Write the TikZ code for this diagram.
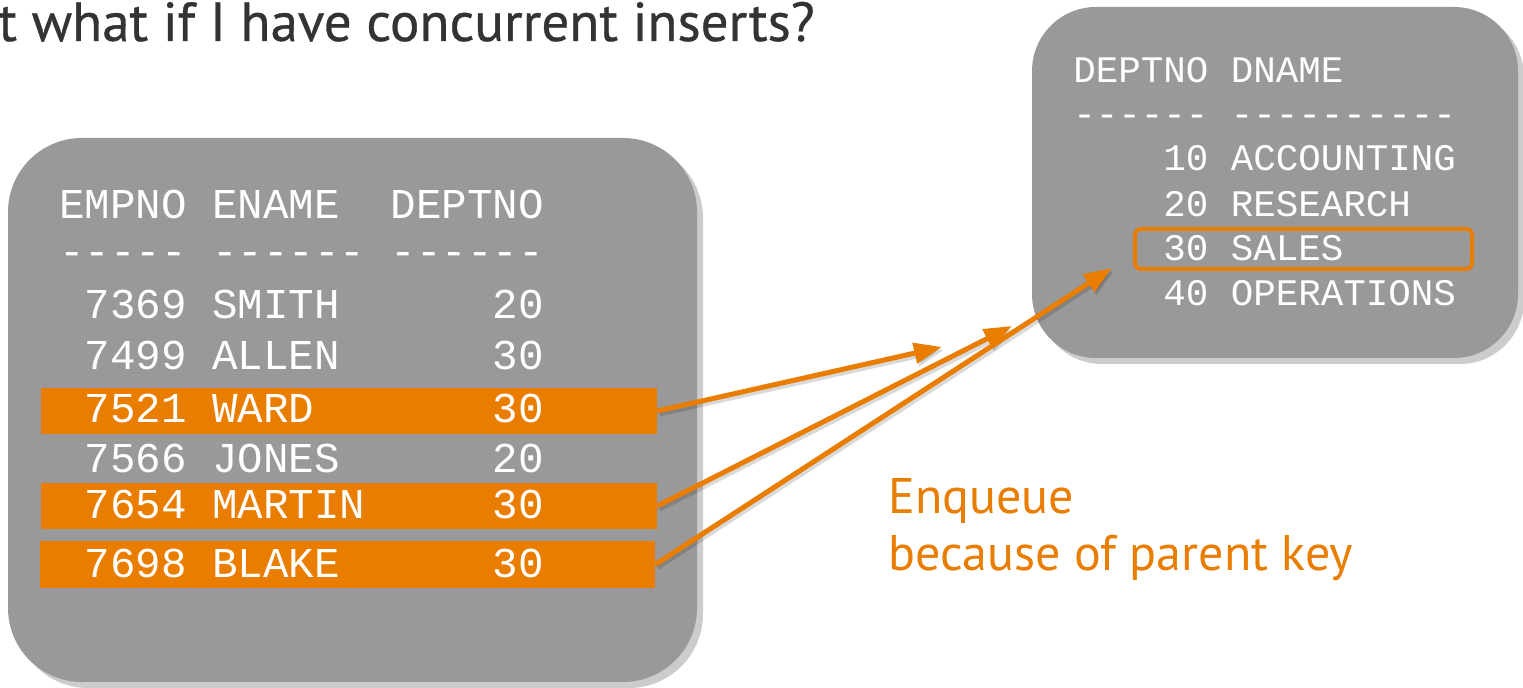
\documentclass[tikz,border=0pt]{standalone}
\usepackage{fontspec}
\setmainfont{PT Sans}
\newfontfamily\titlefont[FakeBold=0.6]{PT Sans}
\newfontfamily\monofont{Liberation Mono}
\usetikzlibrary{arrows.meta,shadows}
\definecolor{boxgray}{HTML}{999999}
\definecolor{orng}{HTML}{E87D00}
\definecolor{titlegray}{HTML}{333333}
\begin{document}
\begin{tikzpicture}[x=0.5pt,y=-0.5pt,
  box/.style={fill=boxgray, draw=none, inner sep=0,
    drop shadow={shadow xshift=3pt,shadow yshift=-3pt,fill=black,opacity=0.2}},
  bar/.style={fill=orng, draw=none, inner sep=0, minimum width=308pt, minimum height=23pt},
  lrow/.style={anchor=base west, inner sep=0, text=white, font=\monofont\fontsize{21.25pt}{21.25pt}\selectfont},
  rrow/.style={anchor=base west, inner sep=0, text=white, font=\monofont\fontsize{18.75pt}{18.75pt}\selectfont},
  link/.style={draw=orng, line width=2.5pt, -{Triangle[length=14pt,width=10pt]},
    preaction={draw=black, opacity=0.15, line width=2.5pt, transform canvas={shift={(1pt,-1.5pt)}}}},
  lbl/.style={anchor=base west, inner sep=0, text=orng, font=\fontsize{25pt}{28pt}\selectfont},
]
\useasboundingbox (0,0) rectangle (1523,688);
% title
\node[anchor=base west, inner sep=0, text=titlegray, font=\titlefont\fontsize{27.5pt}{32pt}\selectfont] (title) at (-2,41) {t what if I have concurrent inserts?};
% left box
\node[box, rounded corners=37pt, minimum width=344.5pt, minimum height=272pt] (emp) at (352.5,410) {};
\node[bar] (ward) at (349,411) {};
\node[bar] (martin) at (349,506) {};
\node[bar, minimum width=307.5pt, minimum height=23.5pt] (blake) at (347.5,564.5) {};
\node[lrow] (eh) at (59,219) {EMPNO~ENAME~~DEPTNO};
\node[lrow] (ed) at (59,266) {-----~------~------};
\node[lrow] (e1) at (59,319) {~7369~SMITH~~~~~~20};
\node[lrow] (e2) at (59,370) {~7499~ALLEN~~~~~~30};
\node[lrow] (e3) at (59,423) {~7521~WARD~~~~~~~30};
\node[lrow] (e4) at (59,473) {~7566~JONES~~~~~~20};
\node[lrow] (e5) at (59,519) {~7654~MARTIN~~~~~30};
\node[lrow] (e6) at (59,578) {~7698~BLAKE~~~~~~30};
% right box
\node[box, rounded corners=32pt, minimum width=243pt, minimum height=175.5pt] (dept) at (1275,182.5) {};
\node[rrow] (dh) at (1073,83) {DEPTNO~DNAME};
\node[rrow] (dd) at (1073,127) {------~----------};
\node[rrow] (d1) at (1073,171) {~~~~10~ACCOUNTING};
\node[rrow] (d2) at (1073,217) {~~~~20~RESEARCH};
\node[rrow] (d3) at (1073,261) {~~~~30~SALES};
\node[rrow] (d4) at (1073,306) {~~~~40~OPERATIONS};
\node[draw=orng, line width=2pt, rounded corners=3pt, inner sep=0, minimum width=168.5pt, minimum height=20pt] (sales) at (1303.5,249) {};
% arrows
\coordinate (t1) at (942,347);
\coordinate (t2) at (1012,326);
\coordinate (t3) at (1112,268);
\draw[link] (ward.east) -- (t1);
\draw[link] (martin.east) -- (t2);
\draw[link] (blake.east) -- (t3);
% label
\node[lbl] (enq1) at (888,514) {Enqueue};
\node[lbl] (enq2) at (888,571) {because of parent key};
\end{tikzpicture}
\end{document}
